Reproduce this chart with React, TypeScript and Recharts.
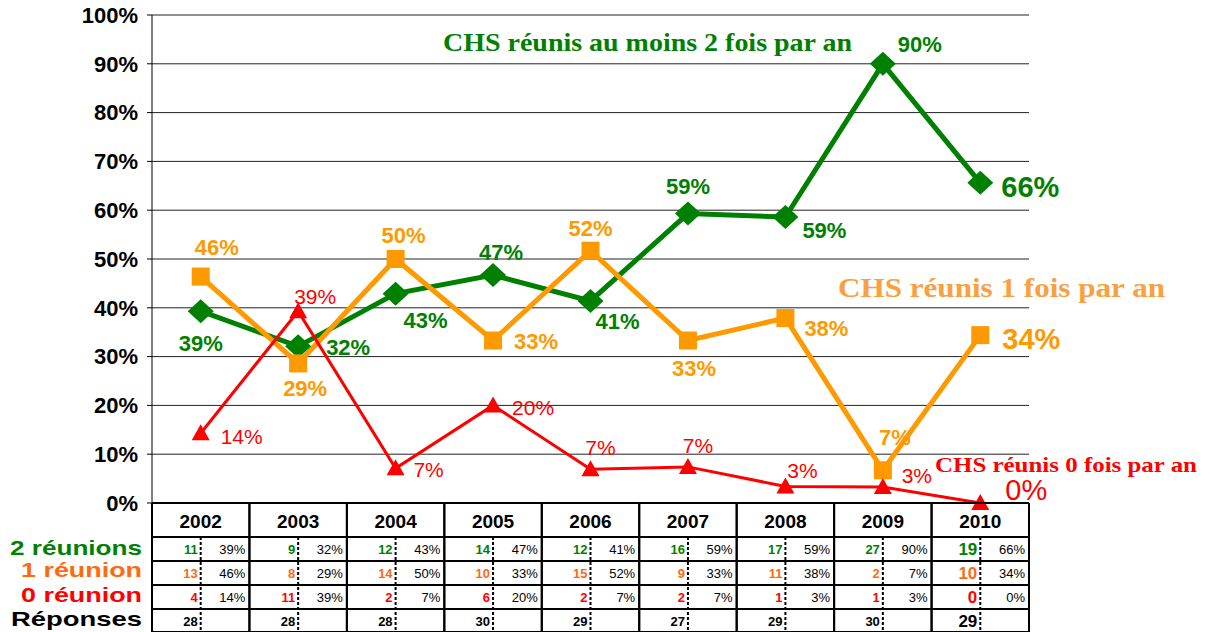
import React from 'react';
import { LineChart, Line, XAxis, YAxis, CartesianGrid, LabelList } from 'recharts';

// ---------- data ----------
const years = ['2002', '2003', '2004', '2005', '2006', '2007', '2008', '2009', '2010'];
const deuxReunions = [0.393, 0.321, 0.429, 0.467, 0.414, 0.593, 0.586, 0.9, 0.656];
const uneReunion = [0.464, 0.286, 0.5, 0.333, 0.517, 0.333, 0.379, 0.067, 0.344];
const zeroReunion = [0.143, 0.393, 0.071, 0.2, 0.069, 0.074, 0.034, 0.033, 0.0];

const count2 = [11, 9, 12, 14, 12, 16, 17, 27, 19];
const count1 = [13, 8, 14, 10, 15, 9, 11, 2, 10];
const count0 = [4, 11, 2, 6, 2, 2, 1, 1, 0];
const reponses = [28, 28, 28, 30, 29, 27, 29, 30, 29];
const pct2 = ['39%', '32%', '43%', '47%', '41%', '59%', '59%', '90%', '66%'];
const pct1 = ['46%', '29%', '50%', '33%', '52%', '33%', '38%', '7%', '34%'];
const pct0 = ['14%', '39%', '7%', '20%', '7%', '7%', '3%', '3%', '0%'];

const yTicks = [0, 0.1, 0.2, 0.3, 0.4, 0.5, 0.6, 0.7, 0.8, 0.9, 1];

const rowLabels = ['2 réunions', '1 réunion', '0 réunion', 'Réponses'];
const annotation2 = 'CHS réunis au moins 2 fois par an';
const annotation1 = 'CHS réunis 1 fois par an';
const annotation0 = 'CHS réunis 0 fois par an';

const data = years.map((y, i) => ({
  year: y,
  deux: deuxReunions[i],
  une: uneReunion[i],
  zero: zeroReunion[i],
}));

// ---------- styles ----------
const GREEN = '#008000';
const ORANGE = '#FF9900';
const ORANGE_DARK = '#FF6A10';
const ORANGE_LIGHT = '#F9A040';
const RED = '#FF0000';
const SANS = '"Liberation Sans", Arial, sans-serif';
const SERIF = '"Liberation Serif", "Times New Roman", serif';

const COL_W = 97.4;
const HEADER_H = 34;
const ROW_H = 24;

// label offsets (dx, dy) relative to each point
const greenOffsets = [[0, 32], [50, 1], [30, 27], [8, -23], [27, 21], [0, -27], [39, 13], [37, -19], [50, 4]];
const orangeOffsets = [[16, -29], [7, 25], [8, -24], [43, 1], [0, -22], [6, 28], [41, 10], [12, -33], [51, 4]];
const redOffsets = [[41, 3], [17, -15], [33, 1], [40, 2], [10, -22], [10, -21], [17, -16], [34, -11], [46, -13]];

// row label placement (width, vertical shift)
const rowLabelWidths = [132, 121, 121, 131];
const rowLabelShift = [-2, -4, -3, -3];

const fmtPct = (v: number) => `${Math.round(v * 100)}%`;

const makeLabel = (offsets: number[][], color: string, weight: string, normalSize: number, bigSize: number) =>
  (props: any) => {
    const { x, y, value, index } = props;
    if (x == null || y == null) return null;
    const [dx, dy] = offsets[index] || [0, 0];
    return (
      <text
        key={`lbl-${index}`}
        x={x + dx}
        y={y + dy}
        textAnchor="middle"
        dominantBaseline="central"
        fill={color}
        fontWeight={weight}
        fontSize={index === years.length - 1 ? bigSize : normalSize}
        fontFamily={SANS}
      >
        {fmtPct(Number(value))}
      </text>
    );
  };

const DiamondDot = (props: any) => {
  const { cx, cy, index } = props;
  if (cx == null || cy == null) return null;
  return (
    <polygon
      key={`d-${index}`}
      points={`${cx},${cy - 12} ${cx + 13},${cy} ${cx},${cy + 12} ${cx - 13},${cy}`}
      fill={GREEN}
    />
  );
};

const SquareDot = (props: any) => {
  const { cx, cy, index } = props;
  if (cx == null || cy == null) return null;
  return <rect key={`s-${index}`} x={cx - 9} y={cy - 9} width={18} height={18} fill={ORANGE} />;
};

const TriangleDot = (props: any) => {
  const { cx, cy, index } = props;
  if (cx == null || cy == null) return null;
  return (
    <polygon
      key={`t-${index}`}
      points={`${cx},${cy - 9} ${cx + 9},${cy + 7} ${cx - 9},${cy + 7}`}
      fill={RED}
    />
  );
};

const TableTick = (props: any) => {
  const { x, y, payload } = props;
  const i = payload && payload.index != null ? payload.index : props.index;
  const left = x - COL_W / 2;
  const right = x + COL_W / 2;
  const rowsY = [y + HEADER_H, y + HEADER_H + ROW_H, y + HEADER_H + 2 * ROW_H, y + HEADER_H + 3 * ROW_H];
  const bottom = y + HEADER_H + 4 * ROW_H - 1;
  const isLast = i === years.length - 1;
  const cntSize = isLast ? 17 : 13;
  const rows = [
    { c: count2[i], p: pct2[i], color: GREEN },
    { c: count1[i], p: pct1[i], color: ORANGE_DARK },
    { c: count0[i], p: pct0[i], color: RED },
    { c: reponses[i], p: '', color: '#000' },
  ];
  const labelColors = [GREEN, ORANGE_DARK, RED, '#000'];
  return (
    <g>
      <text x={x} y={y + HEADER_H / 2 + 1} textAnchor="middle" dominantBaseline="central"
        fontFamily={SANS} fontWeight="bold" fontSize={19} fill="#000">
        {payload.value}
      </text>
      {rows.map((r, k) => {
        const cy = rowsY[k] + ROW_H / 2;
        return (
          <g key={k}>
            <text x={x - 3} y={cy} textAnchor="end" dominantBaseline="central" fontFamily={SANS}
              fontWeight="bold" fontSize={cntSize} fill={r.color}>
              {r.c}
            </text>
            {r.p && (
              <text x={right - 4} y={cy} textAnchor="end" dominantBaseline="central" fontFamily={SANS}
                fontSize={13} fill="#000">
                {r.p}
              </text>
            )}
          </g>
        );
      })}
      <line x1={left} x2={left} y1={y} y2={bottom} stroke="#000" strokeWidth={2} />
      <line x1={right} x2={right} y1={y} y2={bottom} stroke="#000" strokeWidth={2} />
      <line x1={left} x2={right} y1={y} y2={y} stroke="#000" strokeWidth={2} />
      {rowsY.map((ry, k) => (
        <line key={k} x1={left} x2={right} y1={ry} y2={ry} stroke="#000" strokeWidth={2} />
      ))}
      <line x1={left} x2={right} y1={bottom} y2={bottom} stroke="#000" strokeWidth={2} />
      <line x1={x} x2={x} y1={rowsY[0]} y2={bottom} stroke="#000" strokeWidth={2} strokeDasharray="3 2" />
      {i === 0 &&
        rowLabels.map((t, k) => (
          <text key={`rl-${k}`} x={left - 10} y={rowsY[k] + ROW_H / 2 + rowLabelShift[k]} textAnchor="end"
            dominantBaseline="central" fontFamily={SANS} fontWeight="bold" fontSize={21}
            textLength={rowLabelWidths[k]} lengthAdjust="spacingAndGlyphs" fill={labelColors[k]}>
            {t}
          </text>
        ))}
    </g>
  );
};

export default function App() {
  return (
    <div style={{ position: 'absolute', left: 0, top: 0, width: 1214, height: 632, background: '#fff' }}>
      <LineChart
        width={1214}
        height={632}
        data={data}
        margin={{ top: 15, right: 185, bottom: 0, left: 0 }}
      >
        <CartesianGrid vertical={false} stroke="#222" strokeWidth={1} />
        <XAxis
          dataKey="year"
          padding={{ left: COL_W / 2, right: COL_W / 2 }}
          height={129}
          axisLine={false}
          tickLine={false}
          tickSize={0}
          tickMargin={0}
          interval={0}
          tick={<TableTick />}
        />
        <YAxis
          width={152}
          domain={[0, 1]}
          ticks={yTicks}
          tickFormatter={fmtPct}
          axisLine={{ stroke: '#000', strokeWidth: 1 }}
          tickLine={{ stroke: '#000' }}
          tickSize={5}
          tickMargin={9}
          tick={{ fill: '#000', fontWeight: 'bold', fontSize: 22, fontFamily: SANS }}
        />
        <Line
          dataKey="deux"
          stroke={GREEN}
          strokeWidth={5}
          dot={DiamondDot}
          activeDot={false}
          isAnimationActive={false}
        >
          <LabelList dataKey="deux" content={makeLabel(greenOffsets, GREEN, 'bold', 22, 29)} />
        </Line>
        <Line
          dataKey="une"
          stroke={ORANGE}
          strokeWidth={5}
          dot={SquareDot}
          activeDot={false}
          isAnimationActive={false}
        >
          <LabelList dataKey="une" content={makeLabel(orangeOffsets, ORANGE, 'bold', 22, 29)} />
        </Line>
        <Line
          dataKey="zero"
          stroke={RED}
          strokeWidth={3}
          dot={TriangleDot}
          activeDot={false}
          isAnimationActive={false}
        >
          <LabelList dataKey="zero" content={makeLabel(redOffsets, RED, 'normal', 21, 29)} />
        </Line>
      </LineChart>
      <svg
        width={1214}
        height={632}
        style={{ position: 'absolute', left: 0, top: 0, pointerEvents: 'none' }}
      >
        <text x={443} y={42} dominantBaseline="central" fontFamily={SERIF}
          fontWeight="bold" fontSize={25} fill={GREEN} textLength={409} lengthAdjust="spacingAndGlyphs">
          {annotation2}
        </text>
        <text x={838} y={287} dominantBaseline="central" fontFamily={SERIF}
          fontWeight="bold" fontSize={28} fill={ORANGE_LIGHT} textLength={327} lengthAdjust="spacingAndGlyphs">
          {annotation1}
        </text>
        <text x={935} y={465} dominantBaseline="central" fontFamily={SERIF}
          fontWeight="bold" fontSize={21} fill={RED} textLength={262} lengthAdjust="spacingAndGlyphs">
          {annotation0}
        </text>
      </svg>
    </div>
  );
}
